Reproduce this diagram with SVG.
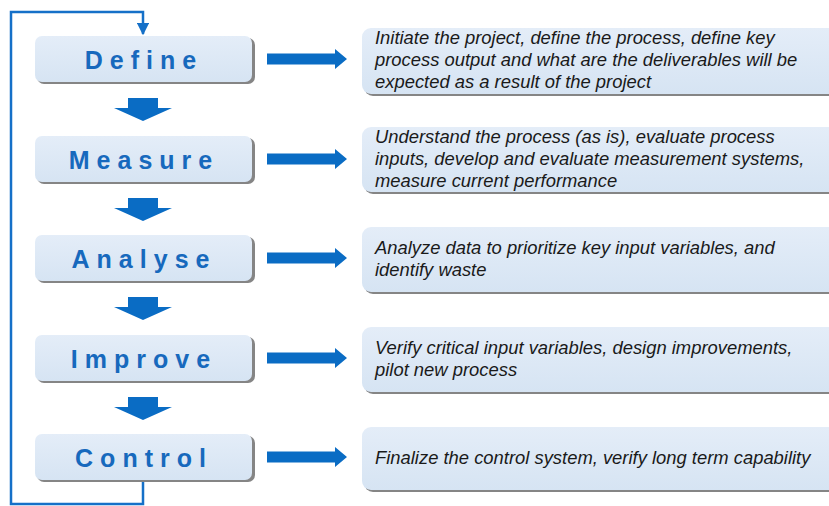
<svg xmlns="http://www.w3.org/2000/svg" width="829" height="506" viewBox="0 0 829 506">
<defs>
<linearGradient id="g" x1="0" y1="0" x2="0" y2="1">
<stop offset="0" stop-color="#e4edf8"/>
<stop offset="1" stop-color="#d6e4f3"/>
</linearGradient>
<marker id="ah" viewBox="0 0 10 10" refX="9" refY="5" markerWidth="5" markerHeight="5" orient="auto" markerUnits="strokeWidth">
<path d="M0,0 L10,5 L0,10 z" fill="#1570c8"/>
</marker>
<path id="rarrow" d="M0,-5.5 L68,-5.5 L68,-10 L80,0 L68,10 L68,5.5 L0,5.5 z"/>
<path id="darrow" d="M-15,0 L15,0 L15,10 L29,10 L0,23 L-29,10 L-15,10 z"/>
</defs>
<style>
.shadow{fill:#858585}
.box{fill:url(#g)}
.lbl{font-family:"Liberation Sans",Arial,sans-serif;font-weight:bold;font-size:25px;fill:#1769bd;letter-spacing:7px;text-anchor:middle}
.desc{font-family:"Liberation Sans",Arial,sans-serif;font-style:italic;font-size:18.4px;fill:#1a1a1a}
.arr{fill:#0a6cc4}
.loop{fill:none;stroke:#1570c8;stroke-width:2.5}
</style>
<rect width="829" height="506" fill="#ffffff"/>
<g id="connectors">
<path class="loop" d="M143,481 L143,504 L11,504 L11,12 L143,12 L143,34" marker-end="url(#ah)"/>
<use href="#darrow" class="arr" x="143" y="98"/>
<use href="#darrow" class="arr" x="143" y="198"/>
<use href="#darrow" class="arr" x="143" y="297"/>
<use href="#darrow" class="arr" x="143" y="397"/>
<use href="#rarrow" class="arr" x="267" y="59"/>
<use href="#rarrow" class="arr" x="267" y="159"/>
<use href="#rarrow" class="arr" x="267" y="258"/>
<use href="#rarrow" class="arr" x="267" y="358"/>
<use href="#rarrow" class="arr" x="267" y="457"/>
</g>
<g id="define">
<rect class="shadow" x="37" y="38" width="218" height="46" rx="7"/>
<rect class="box" x="35" y="36" width="217" height="46" rx="7"/>
<text class="lbl" x="144" y="69">Define</text>
</g>
<g id="measure">
<rect class="shadow" x="37" y="138" width="218" height="46" rx="7"/>
<rect class="box" x="35" y="136" width="217" height="46" rx="7"/>
<text class="lbl" x="144" y="169">Measure</text>
</g>
<g id="analyse">
<rect class="shadow" x="37" y="237" width="218" height="46" rx="7"/>
<rect class="box" x="35" y="235" width="217" height="46" rx="7"/>
<text class="lbl" x="144" y="268">Analyse</text>
</g>
<g id="improve">
<rect class="shadow" x="37" y="337" width="218" height="46" rx="7"/>
<rect class="box" x="35" y="335" width="217" height="46" rx="7"/>
<text class="lbl" x="144" y="368">Improve</text>
</g>
<g id="control">
<rect class="shadow" x="37" y="436" width="218" height="46" rx="7"/>
<rect class="box" x="35" y="434" width="217" height="46" rx="7"/>
<text class="lbl" x="144" y="467">Control</text>
</g>
<g id="define-desc">
<rect class="shadow" x="364" y="30" width="480" height="66" rx="9"/>
<rect class="box" x="362" y="28" width="480" height="66" rx="9"/>
<text class="desc" x="375" y="44">Initiate the project, define the process, define key</text>
<text class="desc" x="375" y="66">process output and what are the deliverables will be</text>
<text class="desc" x="375" y="88">expected as a result of the project</text>
</g>
<g id="measure-desc">
<rect class="shadow" x="364" y="129" width="480" height="65" rx="9"/>
<rect class="box" x="362" y="127" width="480" height="65" rx="9"/>
<text class="desc" x="375" y="143">Understand the process (as is), evaluate process</text>
<text class="desc" x="375" y="165">inputs, develop and evaluate measurement systems,</text>
<text class="desc" x="375" y="187">measure current performance</text>
</g>
<g id="analyse-desc">
<rect class="shadow" x="364" y="229" width="480" height="65" rx="9"/>
<rect class="box" x="362" y="227" width="480" height="65" rx="9"/>
<text class="desc" x="375" y="254">Analyze data to prioritize key input variables, and</text>
<text class="desc" x="375" y="276">identify waste</text>
</g>
<g id="improve-desc">
<rect class="shadow" x="364" y="329" width="480" height="65" rx="9"/>
<rect class="box" x="362" y="327" width="480" height="65" rx="9"/>
<text class="desc" x="375" y="354">Verify critical input variables, design improvements,</text>
<text class="desc" x="375" y="376">pilot new process</text>
</g>
<g id="control-desc">
<rect class="shadow" x="364" y="429" width="480" height="63" rx="9"/>
<rect class="box" x="362" y="427" width="480" height="63" rx="9"/>
<text class="desc" x="375" y="464">Finalize the control system, verify long term capability</text>
</g>
</svg>
